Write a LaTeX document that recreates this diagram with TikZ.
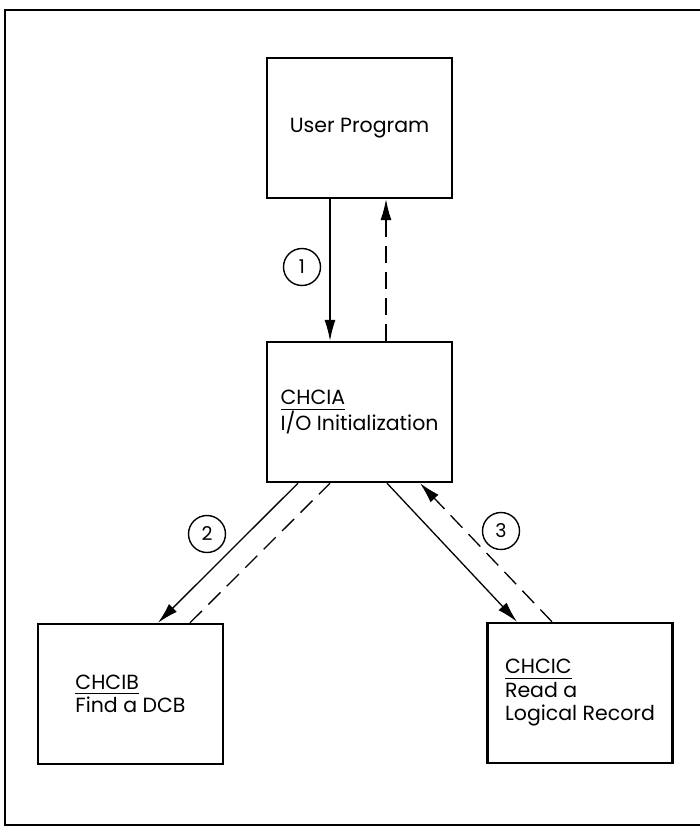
\documentclass[tikz,border=0pt]{standalone}
\usepackage{fontspec}
\setmainfont{Poppins}
\usetikzlibrary{arrows.meta,positioning}
\newcommand{\modname}[1]{\setbox0\hbox{#1}\rlap{\rule[-5pt]{\wd0}{1.2pt}}\box0}
\tikzset{
  modbox/.style={rectangle, draw=black, line width=2.4pt, fill=white,
                 minimum width=185pt, minimum height=140pt, align=left,
                 font=\fontsize{20.5}{23.5}\selectfont, inner sep=0pt},
  call/.style={-{Latex[length=21pt,width=11pt]}, line width=1.3pt},
  back/.style={line width=1.3pt, dash pattern=on 17pt off 9pt},
  backarr/.style={back, -{Latex[length=21pt,width=11pt]}},
  numcirc/.style={circle, draw, line width=1.4pt, minimum size=37pt, inner sep=0pt,
                  font=\fontsize{19}{19}\selectfont},
}

\begin{document}
\begin{tikzpicture}[x=1pt, y=-1pt]
    \useasboundingbox (0,0) rectangle (700,827);
    % outer frame (cut off at the right)
    \draw[line width=2pt] (5,10) rectangle (706,825);

    \node[modbox] (up) at (359.5,128) {User Program};
    \node[modbox] (ia) at (359.5,412) {\modname{CHCIA}\\I/O Initialization};
    \node[modbox] (ib) at (130.5,694) {\modname{CHCIB}\\Find a DCB};
    \node[modbox] (ic) at (580,693) {\modname{CHCIC}\\Read a\\Logical Record};

    \node[numcirc] (n1) at (302,267) {1};
    \node[numcirc] (n2) at (207,534) {2};
    \node[numcirc] (n3) at (501,531) {3};

    \draw[call] ([xshift=-29.5pt]up.south) -- ([xshift=-29.5pt]ia.north);
    \draw[backarr] ([xshift=26.5pt]ia.north) -- ([xshift=26.5pt]up.south);
    \draw[call] ([xshift=-61.5pt]ia.south) -- ([xshift=27.5pt]ib.north);
    \draw[back] ([xshift=59.5pt]ib.north) -- ([xshift=-29.5pt]ia.south);
    \draw[call] ([xshift=27.5pt]ia.south) -- ([xshift=-63pt]ic.north);
    \draw[backarr] ([xshift=-28pt]ic.north) -- ([xshift=60.5pt]ia.south);
  \end{tikzpicture}
\end{document}
